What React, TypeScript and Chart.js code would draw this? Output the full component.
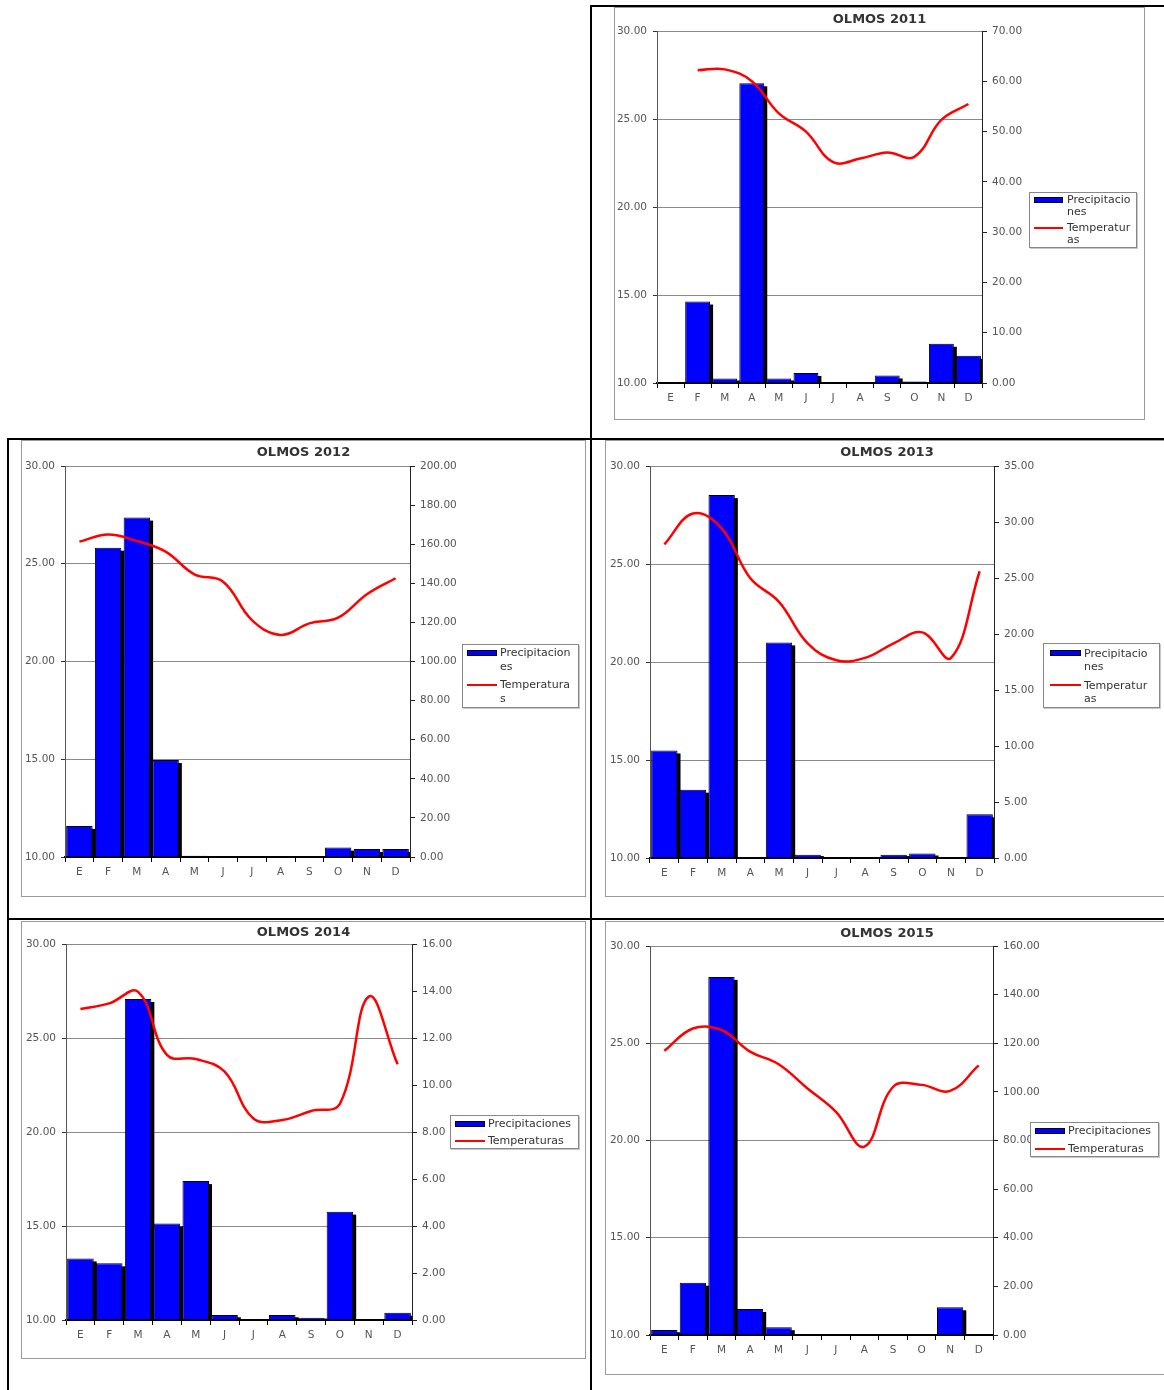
import React, { useEffect, useRef } from "react";
import { Chart, registerables } from "chart.js";

Chart.register(...registerables);
Chart.defaults.font.family = "'DejaVu Sans', Verdana, sans-serif";

// ---------- DATA ----------
const MONTHS = ["E", "F", "M", "A", "M", "J", "J", "A", "S", "O", "N", "D"];

const TEMP_MIN = 10;
const TEMP_MAX = 30;
const TEMP_STEP = 5;

const PRECIP_2011 = [0, 16.2, 0.9, 59.6, 0.9, 2.0, 0, 0, 1.5, 0.3, 7.8, 5.4];
const TEMP_2011 = [null, 27.77, 27.82, 27.15, 25.32, 24.28, 22.55, 22.75, 23.1, 22.85, 24.95, 25.85];

const PRECIP_2012 = [15.9, 158.2, 173.6, 49.6, 0.6, 0, 0, 0, 0, 4.8, 4.1, 4.1];
const TEMP_2012 = [26.13, 26.5, 26.16, 25.62, 24.46, 24.08, 22.12, 21.36, 21.95, 22.24, 23.44, 24.26];

const PRECIP_2013 = [9.6, 6.1, 32.4, 0, 19.25, 0.3, 0, 0, 0.3, 0.4, 0, 3.9];
const TEMP_2013 = [26.0, 27.58, 26.82, 24.27, 23.07, 20.95, 20.09, 20.21, 20.95, 21.51, 20.21, 24.63];

const PRECIP_2014 = [2.62, 2.41, 13.66, 4.11, 5.91, 0.21, 0, 0.21, 0.1, 4.61, 0, 0.31];
const TEMP_2014 = [26.54, 26.84, 27.45, 24.1, 23.88, 23.21, 20.72, 20.64, 21.12, 21.5, 27.2, 23.6];

const PRECIP_2015 = [2.05, 21.5, 147.3, 10.7, 3.2, 0, 0, 0, 0, 0, 11.4, 0];
const TEMP_2015 = [24.61, 25.76, 25.68, 24.57, 23.92, 22.69, 21.48, 19.68, 22.75, 22.86, 22.55, 23.86];

// ---------- LAYOUT ----------
type Layout = {
  frame: { x: number; y: number; w: number; h: number };
  plot: { l: number; t: number; r: number; b: number };
  titleY: number;
  legend: {
    x: number; y: number; w: number; h: number;
    sw: [number, number]; tx: number; rows: [number, number]; lh: number;
  };
};

type PanelDef = {
  title: string;
  precip: number[];
  temp: (number | null)[];
  rMax: number;
  rStep: number;
  precipLabel: string[];
  tempLabel: string[];
  layout: Layout;
};

const PANELS: PanelDef[] = [
  {
    title: "OLMOS 2011", precip: PRECIP_2011, temp: TEMP_2011, rMax: 70, rStep: 10,
    precipLabel: ["Precipitacio", "nes"], tempLabel: ["Temperatur", "as"],
    layout: {
      frame: { x: 614, y: 7, w: 531, h: 413 },
      plot: { l: 657, t: 31, r: 982, b: 383 },
      titleY: 19,
      legend: { x: 1029, y: 192, w: 108, h: 56, sw: [1034, 1063], tx: 1067, rows: [200, 228], lh: 12 },
    },
  },
  {
    title: "OLMOS 2012", precip: PRECIP_2012, temp: TEMP_2012, rMax: 200, rStep: 20,
    precipLabel: ["Precipitacion", "es"], tempLabel: ["Temperatura", "s"],
    layout: {
      frame: { x: 21, y: 440, w: 565, h: 457 },
      plot: { l: 65, t: 466, r: 410, b: 857 },
      titleY: 452,
      legend: { x: 462, y: 644, w: 117, h: 64, sw: [467, 497], tx: 500, rows: [653, 685], lh: 14 },
    },
  },
  {
    title: "OLMOS 2013", precip: PRECIP_2013, temp: TEMP_2013, rMax: 35, rStep: 5,
    precipLabel: ["Precipitacio", "nes"], tempLabel: ["Temperatur", "as"],
    layout: {
      frame: { x: 605, y: 440, w: 564, h: 457 },
      plot: { l: 650, t: 466, r: 994, b: 858 },
      titleY: 452,
      legend: { x: 1043, y: 643, w: 117, h: 65, sw: [1050, 1081], tx: 1084, rows: [653, 685], lh: 13 },
    },
  },
  {
    title: "OLMOS 2014", precip: PRECIP_2014, temp: TEMP_2014, rMax: 16, rStep: 2,
    precipLabel: ["Precipitaciones"], tempLabel: ["Temperaturas"],
    layout: {
      frame: { x: 21, y: 921, w: 565, h: 438 },
      plot: { l: 66, t: 944, r: 412, b: 1320 },
      titleY: 932,
      legend: { x: 450, y: 1115, w: 129, h: 34, sw: [455, 485], tx: 488, rows: [1124, 1141], lh: 12 },
    },
  },
  {
    title: "OLMOS 2015", precip: PRECIP_2015, temp: TEMP_2015, rMax: 160, rStep: 20,
    precipLabel: ["Precipitaciones"], tempLabel: ["Temperaturas"],
    layout: {
      frame: { x: 605, y: 921, w: 564, h: 454 },
      plot: { l: 650, t: 946, r: 993, b: 1335 },
      titleY: 933,
      legend: { x: 1030, y: 1122, w: 129, h: 35, sw: [1035, 1065], tx: 1068, rows: [1131, 1149], lh: 12 },
    },
  },
];

const TICK_FONT = { family: "'DejaVu Sans', Verdana, sans-serif", size: 10.5 };
const TICK_COLOR = "#555";

const shadowPlugin = {
  id: "barShadow",
  beforeDatasetDraw(chart: any, args: any) {
    const meta = args.meta;
    if (meta.type !== "bar") return;
    const { ctx, chartArea } = chart;
    ctx.save();
    ctx.beginPath();
    ctx.rect(chartArea.left, chartArea.top, chartArea.right - chartArea.left, chartArea.bottom - chartArea.top);
    ctx.clip();
    ctx.fillStyle = "#000";
    for (const el of meta.data) {
      const p = el.getProps(["x", "y", "base", "width"], true);
      const h = p.base - p.y;
      if (h < 0.5) continue;
      const off = Math.min(3, h / 2);
      ctx.fillRect(p.x - p.width / 2 + 3, p.y + off, p.width, h - off);
    }
    ctx.restore();
  },
};

function Panel({ def }: { def: PanelDef }) {
  const ref = useRef<HTMLCanvasElement | null>(null);
  const L = def.layout;
  const f = L.frame;

  useEffect(() => {
    if (!ref.current) return;
    const leftW = L.plot.l - f.x;
    const rightW = f.x + f.w - L.plot.r;
    const bottomH = f.y + f.h - L.plot.b;
    const topPad = L.plot.t - f.y;
    const chart = new Chart(ref.current, {
      type: "bar",
      data: {
        labels: MONTHS,
        datasets: [
          {
            type: "line",
            label: "Temperaturas",
            data: def.temp,
            yAxisID: "yL",
            borderColor: "#ff0000",
            borderWidth: 2.5,
            pointRadius: 0,
            tension: 0.4,
            fill: false,
            order: 0,
          } as any,
          {
            type: "bar",
            label: "Precipitaciones",
            data: def.precip,
            yAxisID: "yR",
            backgroundColor: "#0000ff",
            borderColor: "#000",
            borderWidth: 1,
            barPercentage: 0.92,
            categoryPercentage: 1,
            order: 1,
          } as any,
        ],
      },
      options: {
        responsive: false,
        animation: false,
        layout: { padding: { top: topPad, left: 0, right: 0, bottom: 0 } },
        plugins: {
          legend: { display: false },
          title: { display: false },
          tooltip: { enabled: false },
        },
        scales: {
          x: {
            type: "category",
            offset: true,
            grid: { offset: true, drawOnChartArea: false, drawTicks: true, tickLength: 5, color: "#000", tickColor: "#000" },
            border: { display: true, color: "#000", width: 2 },
            ticks: { font: TICK_FONT, color: TICK_COLOR, padding: 4, maxRotation: 0, autoSkip: false },
            afterFit: (s: any) => { s.height = bottomH; },
          },
          yL: {
            type: "linear",
            position: "left",
            min: TEMP_MIN,
            max: TEMP_MAX,
            ticks: { stepSize: TEMP_STEP, font: TICK_FONT, color: TICK_COLOR, padding: 6, callback: (v: any) => Number(v).toFixed(2) },
            grid: { color: "#8a8a8a", tickColor: "#333", tickLength: 4, lineWidth: 1 },
            border: { display: true, color: "#555", width: 1 },
            afterFit: (s: any) => { s.width = leftW; },
          },
          yR: {
            type: "linear",
            position: "right",
            min: 0,
            max: def.rMax,
            ticks: { stepSize: def.rStep, font: TICK_FONT, color: TICK_COLOR, padding: 5, callback: (v: any) => Number(v).toFixed(2) },
            grid: { drawOnChartArea: false, drawTicks: true, tickLength: 5, color: "#222", tickColor: "#222" },
            border: { display: true, color: "#222", width: 1 },
            afterFit: (s: any) => { s.width = rightW; },
          },
        },
      } as any,
      plugins: [shadowPlugin],
    });
    return () => chart.destroy();
  }, []);

  const lg = L.legend;
  const textStyle = (cy: number, x: number): React.CSSProperties => ({
    position: "absolute",
    left: x - lg.x - 1,
    top: cy - lg.y - 1 - lg.lh / 2,
    height: lg.lh,
    lineHeight: lg.lh + "px",
    fontSize: 11,
    color: "#333",
    whiteSpace: "nowrap",
  });

  return (
    <div style={{ position: "absolute", left: f.x, top: f.y, width: f.w, height: f.h, background: "#fff" }}>
      <canvas ref={ref} width={f.w} height={f.h} style={{ display: "block", position: "absolute", left: 0, top: 0 }} />
      <div
        style={{
          position: "absolute", left: 0, top: 0, width: f.w, height: f.h,
          boxSizing: "border-box", border: "1px solid #9a9a9a", pointerEvents: "none",
        }}
      />
      <div
        style={{
          position: "absolute", left: 0, width: f.w, top: L.titleY - f.y - 8, height: 16, lineHeight: "16px",
          textAlign: "center", fontWeight: "bold", fontSize: 13, color: "#333",
        }}
      >
        {def.title}
      </div>
      <div
        style={{
          position: "absolute", left: lg.x - f.x, top: lg.y - f.y, width: lg.w, height: lg.h,
          boxSizing: "border-box", border: "1px solid #888", background: "#fff",
          boxShadow: "1px 1px 0 #c8c8c8",
        }}
      >
        <div
          style={{
            position: "absolute", left: lg.sw[0] - lg.x - 1, top: lg.rows[0] - lg.y - 1 - 3,
            width: lg.sw[1] - lg.sw[0], height: 6, boxSizing: "border-box",
            background: "#0000ff", border: "1px solid #000",
          }}
        />
        <div
          style={{
            position: "absolute", left: lg.sw[0] - lg.x - 1, top: lg.rows[1] - lg.y - 1 - 1.25,
            width: lg.sw[1] - lg.sw[0], height: 2.5, background: "#ff0000",
          }}
        />
        {def.precipLabel.map((t, i) => (
          <div key={"p" + i} style={textStyle(lg.rows[0] + i * lg.lh, lg.tx)}>{t}</div>
        ))}
        {def.tempLabel.map((t, i) => (
          <div key={"t" + i} style={textStyle(lg.rows[1] + i * lg.lh, lg.tx)}>{t}</div>
        ))}
      </div>
    </div>
  );
}

const TABLE_LINES = [
  { left: 590, top: 5, width: 2, height: 1385 },
  { left: 590, top: 5, width: 574, height: 2 },
  { left: 7, top: 438, width: 1157, height: 2 },
  { left: 7, top: 918, width: 1157, height: 2 },
  { left: 7, top: 438, width: 2, height: 952 },
];

export default function App() {
  return (
    <div
      style={{
        position: "absolute", left: 0, top: 0, width: 1164, height: 1390, overflow: "hidden",
        background: "#fff", fontFamily: "'DejaVu Sans', Verdana, sans-serif",
      }}
    >
      {PANELS.map((p) => (
        <Panel key={p.title} def={p} />
      ))}
      {TABLE_LINES.map((l, i) => (
        <div key={i} style={{ position: "absolute", background: "#000", ...l }} />
      ))}
    </div>
  );
}
